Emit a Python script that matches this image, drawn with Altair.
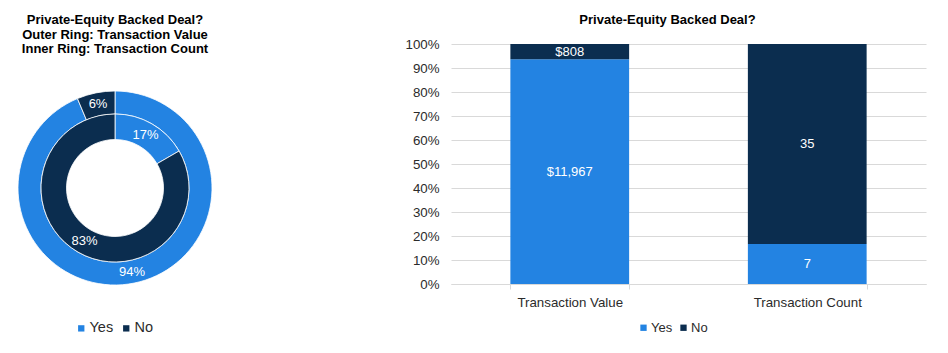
import altair as alt
import pandas as pd

answers = ["Yes", "No"]
measures = ["Transaction Value", "Transaction Count"]
value_amounts = [11967, 808]
count_amounts = [7, 35]
value_labels = ["$11,967", "$808"]
count_labels = ["7", "35"]
colors = ["#2383E2", "#0B2D4F"]

rows = []
for m, vals, labs in [(measures[0], value_amounts, value_labels),
                      (measures[1], count_amounts, count_labels)]:
    for i, (a, v, l) in enumerate(zip(answers, vals, labs)):
        rows.append({"measure": m, "answer": a, "amount": v, "label": l, "ord": i})
df = pd.DataFrame(rows)

FONT = "Liberation Sans"
TXT = "#2b2b2b"
color_scale = alt.Scale(domain=answers, range=colors)

CX, CY = 114, 144

left_legend = alt.Legend(title=None, orient="none", legendX=73, legendY=277,
                         direction="horizontal", symbolType="square", symbolSize=40,
                         symbolStrokeWidth=0, labelFont=FONT, labelFontSize=14.5,
                         labelColor=TXT, columnPadding=5, labelOffset=1, padding=0)

base = alt.Chart(df).transform_joinaggregate(
    total="sum(amount)", groupby=["measure"]
).transform_calculate(pct="datum.amount / datum.total")


def ring(measure, r_in, r_out, r_lab):
    b = base.transform_filter(alt.datum.measure == measure).encode(
        theta=alt.Theta("amount:Q", stack=True),
        order=alt.Order("ord:Q"),
        x=alt.value(CX), y=alt.value(CY))
    arc = b.mark_arc(innerRadius=r_in, radius=r_out, stroke="white", strokeWidth=0.8).encode(
        color=alt.Color("answer:N", scale=color_scale, sort=answers, legend=left_legend))
    txt = b.mark_text(radius=r_lab, font=FONT, fontSize=13, color="white").encode(
        text=alt.Text("pct:Q", format=".0%"))
    return alt.layer(arc, txt)


left = alt.layer(ring("Transaction Value", 74, 97, 86),
                 ring("Transaction Count", 48.5, 74, 61)).resolve_scale(
    theta="independent").properties(
    width=228, height=240,
    title=alt.TitleParams(
        text=["Private-Equity Backed Deal?", "Outer Ring: Transaction Value",
              "Inner Ring: Transaction Count"],
        font=FONT, fontSize=13, fontWeight="bold", color="#000000",
        anchor="middle", lineHeight=14.5, offset=-12))

stacked = alt.Chart(df).transform_stack(
    stack="amount", groupby=["measure"], as_=["y0", "y1"], offset="normalize",
    sort=[alt.SortField("ord", order="ascending")])

x_axis = alt.Axis(labelAngle=0, domainColor="#d9d9d9", tickColor="#d9d9d9",
                  tickSize=5, tickBand="extent", labelFont=FONT,
                  labelFontSize=13.3, labelColor=TXT, labelPadding=6, grid=False)
x_scale = alt.Scale(paddingInner=0.5, paddingOuter=0.25)
y_axis = alt.Axis(values=[i / 10 for i in range(11)], format=".0%",
                  domain=False, ticks=False, gridColor="#d9d9d9", labelOverlap=False,
                  labelFont=FONT, labelFontSize=13.3, labelColor=TXT,
                  labelPadding=12)
y_scale = alt.Scale(domain=[0, 1])

right_legend = alt.Legend(title=None, orient="none", legendX=186, legendY=277,
                          direction="horizontal", symbolType="square", symbolSize=40,
                          symbolStrokeWidth=0, labelFont=FONT, labelFontSize=13,
                          labelColor=TXT, columnPadding=4, labelOffset=1, padding=0)

bars = stacked.mark_bar().encode(
    x=alt.X("measure:N", sort=measures, title=None, scale=x_scale, axis=x_axis),
    y=alt.Y("y0:Q", title=None, scale=y_scale, axis=y_axis),
    y2="y1:Q",
    color=alt.Color("answer:N", scale=color_scale, sort=answers, legend=right_legend))

labels = stacked.transform_calculate(mid="(datum.y0 + datum.y1) / 2").mark_text(
    font=FONT, fontSize=13, color="white").encode(
    x=alt.X("measure:N", sort=measures, title=None, scale=x_scale, axis=x_axis),
    y=alt.Y("mid:Q", title=None, scale=y_scale, axis=y_axis),
    text="label:N")

right = alt.layer(bars, labels).properties(
    width=475, height=240,
    title=alt.TitleParams(text="Private-Equity Backed Deal?", font=FONT, fontSize=13,
                          fontWeight="bold", color="#000000", anchor="middle",
                          dx=-21, offset=10))

chart = alt.hconcat(left, right, spacing=174).resolve_scale(
    color="independent").resolve_legend(color="independent").properties(
    padding={"left": 0, "top": 13, "right": 0, "bottom": 0}
).configure_view(stroke="transparent")

chart.save("out.html", embed_options={"renderer": "svg", "actions": False})
